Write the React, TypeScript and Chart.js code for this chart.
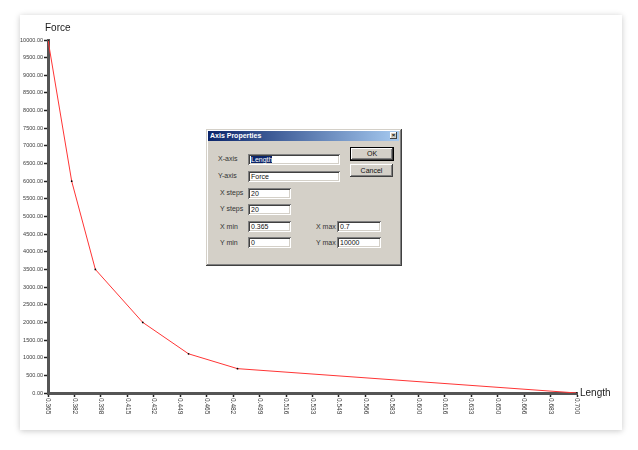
import React, { useEffect, useRef } from "react";
import { Chart, registerables } from "chart.js";

Chart.register(...registerables);

// ---- data ----
const LENGTH_VALUES = [0.365, 0.38, 0.395, 0.425, 0.454, 0.485, 0.7];
const FORCE_VALUES = [10000, 6000, 3500, 2000, 1110, 690, 0];

const X_MIN = 0.365;
const X_MAX = 0.7;
const X_STEPS = 20;
const Y_MIN = 0;
const Y_MAX = 10000;
const Y_STEPS = 20;

const X_TICK_LABELS = [
  "0.365", "0.382", "0.398", "0.415", "0.432", "0.449", "0.465", "0.482",
  "0.499", "0.516", "0.533", "0.549", "0.566", "0.583", "0.600", "0.616",
  "0.633", "0.650", "0.666", "0.683", "0.700",
];
const Y_TICK_LABELS = [
  "0.00", "500.00", "1000.00", "1500.00", "2000.00", "2500.00", "3000.00",
  "3500.00", "4000.00", "4500.00", "5000.00", "5500.00", "6000.00", "6500.00",
  "7000.00", "7500.00", "8000.00", "8500.00", "9000.00", "9500.00", "10000.00",
];

const X_TITLE = "Length";
const Y_TITLE = "Force";

const FONT = "'Liberation Sans', Arial, Helvetica, sans-serif";

const axisPlugin = {
  id: "axisDecor",
  afterDraw(chart: any) {
    const { ctx, chartArea } = chart;
    const xs = chart.scales.x;
    ctx.save();
    ctx.fillStyle = "#3a3a3a";
    ctx.font = `6.5px ${FONT}`;
    ctx.textAlign = "left";
    ctx.textBaseline = "middle";
    xs.ticks.forEach((t: any, i: number) => {
      const px = xs.getPixelForValue(t.value);
      ctx.save();
      ctx.translate(px, chartArea.bottom + 5);
      ctx.rotate(Math.PI / 2);
      ctx.fillText(X_TICK_LABELS[i] ?? "", 0, 0);
      ctx.restore();
    });
    ctx.fillStyle = "#1a1a1a";
    ctx.font = `10px ${FONT}`;
    ctx.textBaseline = "middle";
    ctx.textAlign = "left";
    ctx.fillText(Y_TITLE, chartArea.left - 3, chartArea.top - 12);
    ctx.fillText(X_TITLE, chartArea.right + 3, chartArea.bottom);
    ctx.restore();
  },
};

const inputStyle = (left: number, top: number, width: number, height: number): React.CSSProperties => ({
  position: "absolute",
  left,
  top,
  width,
  height,
  background: "#fff",
  boxShadow:
    "inset 1px 1px #808080, inset -1px -1px #ffffff, inset 2px 2px #404040, inset -2px -2px #d4d0c8",
  fontSize: 7,
  lineHeight: `${height}px`,
  paddingLeft: 3,
  boxSizing: "border-box",
  color: "#111",
  whiteSpace: "nowrap",
});

const labelStyle = (left: number, centerY: number): React.CSSProperties => ({
  position: "absolute",
  left,
  top: centerY - 4,
  height: 8,
  lineHeight: "8px",
  fontSize: 7,
  color: "#333",
  whiteSpace: "nowrap",
});

const buttonStyle = (left: number, top: number, width: number, height: number, def: boolean): React.CSSProperties => ({
  position: "absolute",
  left,
  top,
  width,
  height,
  background: "#d4d0c8",
  boxSizing: "border-box",
  border: def ? "1px solid #000" : "none",
  boxShadow: "inset -1px -1px #404040, inset 1px 1px #ffffff, inset -2px -2px #808080",
  fontSize: 7,
  lineHeight: `${height - (def ? 2 : 0)}px`,
  textAlign: "center",
  color: "#111",
});

export default function App() {
  const canvasRef = useRef<HTMLCanvasElement | null>(null);

  useEffect(() => {
    if (!canvasRef.current) return;
    const data = LENGTH_VALUES.map((x, i) => ({ x, y: FORCE_VALUES[i] }));
    const chart = new Chart(canvasRef.current, {
      type: "line",
      data: {
        datasets: [
          {
            data,
            borderColor: "#ff3535",
            borderWidth: 1,
            pointRadius: 0.9,
            pointBackgroundColor: "#000",
            pointBorderWidth: 0,
            tension: 0,
            fill: false,
          },
        ],
      },
      options: {
        animation: false,
        responsive: false,
        devicePixelRatio: 1,
        layout: { padding: { left: 0, top: 40, right: 61, bottom: 0 } },
        plugins: { legend: { display: false }, tooltip: { enabled: false } },
        scales: {
          x: {
            type: "linear",
            min: X_MIN,
            max: X_MAX,
            afterBuildTicks: (scale: any) => {
              scale.ticks = X_TICK_LABELS.map((_, i) => ({
                value: X_MIN + (i * (X_MAX - X_MIN)) / X_STEPS,
              }));
            },
            afterFit: (scale: any) => {
              scale.height = 57;
            },
            ticks: { display: false },
            grid: {
              drawOnChartArea: false,
              drawTicks: true,
              tickLength: 4,
              tickWidth: 1.5,
              tickColor: "#222",
            },
            border: { display: true, color: "#555", width: 3 },
          },
          y: {
            type: "linear",
            min: Y_MIN,
            max: Y_MAX,
            afterBuildTicks: (scale: any) => {
              scale.ticks = Y_TICK_LABELS.map((_, i) => ({
                value: Y_MIN + (i * (Y_MAX - Y_MIN)) / Y_STEPS,
              }));
            },
            afterFit: (scale: any) => {
              scale.width = 48;
            },
            ticks: {
              padding: 1,
              color: "#3a3a3a",
              font: { size: 5.5, family: FONT },
              callback: (_v: any, i: number) => Y_TICK_LABELS[i],
            },
            grid: {
              drawOnChartArea: false,
              drawTicks: true,
              tickLength: 4,
              tickWidth: 1.5,
              tickColor: "#222",
            },
            border: { display: true, color: "#555", width: 3 },
          },
        },
      },
      plugins: [axisPlugin],
    });
    return () => chart.destroy();
  }, []);

  return (
    <div
      style={{
        position: "fixed",
        left: 0,
        top: 0,
        width: 638,
        height: 450,
        background: "#fff",
        overflow: "hidden",
        fontFamily: FONT,
      }}
    >
      <div
        style={{
          position: "absolute",
          left: 20,
          top: 15,
          width: 602,
          height: 415,
          background: "#fff",
          boxShadow: "0 1px 6px rgba(0,0,0,0.22)",
        }}
      />
      <canvas
        ref={canvasRef}
        width={638}
        height={450}
        style={{ position: "absolute", left: 0, top: 0, width: 638, height: 450 }}
      />
      {/* Axis Properties dialog */}
      <div
        style={{
          position: "absolute",
          left: 206,
          top: 129,
          width: 196,
          height: 137,
          background: "#d4d0c8",
          boxShadow:
            "inset -1px -1px #404040, inset 1px 1px #d4d0c8, inset -2px -2px #808080, inset 2px 2px #ffffff",
        }}
      >
        <div
          style={{
            position: "absolute",
            left: 2,
            top: 2,
            right: 3,
            height: 10,
            background: "linear-gradient(to right, #0a246a, #a6caf0)",
            color: "#fff",
            fontWeight: "bold",
            fontSize: 7,
            lineHeight: "10px",
            paddingLeft: 2,
            whiteSpace: "nowrap",
          }}
        >
          Axis Properties
          <div
            style={{
              position: "absolute",
              right: 2,
              top: 1,
              width: 7,
              height: 7,
              background: "#d4d0c8",
              boxShadow: "inset -1px -1px #404040, inset 1px 1px #ffffff",
              color: "#000",
              fontSize: 6,
              lineHeight: "7px",
              textAlign: "center",
            }}
          >
            ×
          </div>
        </div>

        <div style={labelStyle(12, 30)}>X-axis</div>
        <div style={inputStyle(42, 25, 92, 11)}>
          <span style={{ background: "#0a246a", color: "#fff" }}>Length</span>
        </div>
        <div style={labelStyle(12, 47)}>Y-axis</div>
        <div style={inputStyle(42, 42, 92, 11)}>Force</div>

        <div style={labelStyle(14, 64)}>X steps</div>
        <div style={inputStyle(42, 59, 43, 11)}>20</div>
        <div style={labelStyle(14, 80)}>Y steps</div>
        <div style={inputStyle(42, 75, 43, 11)}>20</div>

        <div style={labelStyle(14, 97.5)}>X min</div>
        <div style={inputStyle(42, 92, 43, 11)}>0.365</div>
        <div style={labelStyle(14, 113.5)}>Y min</div>
        <div style={inputStyle(42, 108, 43, 11)}>0</div>

        <div style={labelStyle(110, 97.5)}>X max</div>
        <div style={inputStyle(131, 92, 44, 11)}>0.7</div>
        <div style={labelStyle(110, 113.5)}>Y max</div>
        <div style={inputStyle(131, 108, 44, 11)}>10000</div>

        <div style={buttonStyle(144, 18, 44, 14, true)}>OK</div>
        <div style={buttonStyle(144, 35, 43, 13, false)}>Cancel</div>
      </div>
    </div>
  );
}
